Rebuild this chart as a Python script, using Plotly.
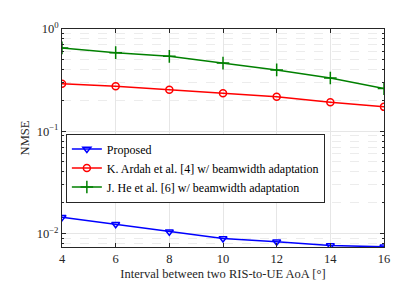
import plotly.graph_objects as go

interval = [4, 6, 8, 10, 12, 14, 16]
proposed = [0.0144, 0.0123, 0.0104, 0.0089, 0.0083, 0.0076, 0.0074]
ardah = [0.292, 0.276, 0.255, 0.235, 0.217, 0.192, 0.173]
he = [0.653, 0.587, 0.54, 0.464, 0.398, 0.332, 0.261]
names = ["Proposed", "K. Ardah et al. [4] w/ beamwidth adaptation",
         "J. He et al. [6] w/ beamwidth adaptation"]
y_tickvals = [0.01, 0.1, 1]
y_ticktext = ["10<sup>−2</sup>", "10<sup>−1</sup>", "10<sup>0</sup>"]

minor_vals = [m * d for d in (0.001, 0.01, 0.1) for m in range(2, 10)]

font = "Liberation Serif"
fs = 12.5
fig = go.Figure()
fig.add_trace(go.Scatter(x=interval, y=proposed, name=names[0], mode="lines+markers",
                         line=dict(color="#0000ff", width=1.5),
                         marker=dict(symbol="triangle-down-open", size=7, color="#0000ff", line=dict(width=1.5))))
fig.add_trace(go.Scatter(x=interval, y=ardah, name=names[1], mode="lines+markers",
                         line=dict(color="#ff0000", width=1.5),
                         marker=dict(symbol="circle-open", size=7, color="#ff0000", line=dict(width=1.5))))
fig.add_trace(go.Scatter(x=interval, y=he, name=names[2], mode="lines+markers",
                         line=dict(color="#008000", width=1.5),
                         marker=dict(symbol="cross-thin-open", size=9, color="#008000", line=dict(width=1.5, color="#008000"))))

axis_common = dict(showline=True, linecolor="#262626", linewidth=1, mirror="allticks",
                   ticks="inside", ticklen=4, tickcolor="#262626",
                   showgrid=True, gridcolor="#e6e6e6", gridwidth=1,
                   zeroline=False, tickfont=dict(family=font, size=fs, color="#262626"))

fig.update_xaxes(range=[4, 16], tickmode="linear", tick0=4, dtick=2,
                 title=dict(text="Interval between two RIS-to-UE AoA [°]", font=dict(family=font, size=fs, color="#262626"), standoff=4),
                 **axis_common)
fig.update_yaxes(type="log", range=[-2.133, 0], tickmode="array", tickvals=y_tickvals, ticktext=y_ticktext,
                 title=dict(text="NMSE", font=dict(family=font, size=fs, color="#262626"), standoff=4),
                 minor=dict(tickmode="array", tickvals=minor_vals, ticks="inside", ticklen=2, tickcolor="#262626",
                            showgrid=True, gridcolor="#ececec", griddash="dash"),
                 **axis_common)

fig.update_layout(
    width=415, height=283,
    margin=dict(l=54, r=39, t=21, b=32),
    paper_bgcolor="white", plot_bgcolor="white",
    font=dict(family=font, size=fs, color="#262626"),
    legend=dict(x=0.012, y=0.204, xanchor="left", yanchor="bottom",
                bgcolor="white", bordercolor="#262626", borderwidth=1,
                font=dict(family=font, size=12, color="black"),
                tracegroupgap=0, itemwidth=30),
    showlegend=True,
)

fig.write_html("out.html")
